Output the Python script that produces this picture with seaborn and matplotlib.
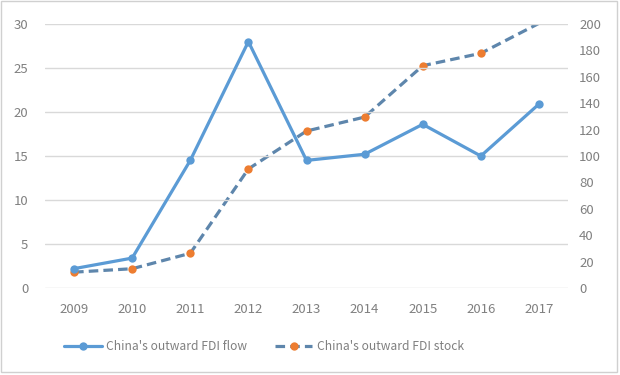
import matplotlib
matplotlib.use("Agg")
import matplotlib.pyplot as plt
import seaborn as sns
import pandas as pd
from matplotlib.lines import Line2D

years = ["2009", "2010", "2011", "2012", "2013", "2014", "2015", "2016", "2017"]
fdi_flow = [2.2, 3.4, 14.5, 28.0, 14.5, 15.2, 18.6, 15.0, 20.9]
fdi_stock = [12.0, 14.6, 26.3, 90.2, 118.9, 129.5, 168.4, 177.8, 200.5]
left_ticks = [0, 5, 10, 15, 20, 25, 30]
right_ticks = [0, 20, 40, 60, 80, 100, 120, 140, 160, 180, 200]
flow_label = "China's outward FDI flow"
stock_label = "China's outward FDI stock"

sns.set_theme(style="white")
plt.rcParams['font.family'] = ['Noto Sans CJK SC', 'DejaVu Sans']

df = pd.DataFrame({"year": years, "flow": fdi_flow, "stock": fdi_stock})
df["x"] = range(len(years))

fig = plt.figure(figsize=(6.2, 3.75), dpi=100)
ax = fig.add_axes([45/620, 1-288/375, 523/620, 264/375])
ax2 = ax.twinx()

flow_c = "#5B9BD5"
stock_c = "#5E86AC"
mark_c = "#ED7D31"
text_c = "#808080"
grid_c = "#D9D9D9"

sns.lineplot(data=df, x="x", y="flow", ax=ax, color=flow_c, linewidth=2.3,
             marker="o", markersize=6, markeredgewidth=0, markerfacecolor=flow_c,
             legend=False)
sns.lineplot(data=df, x="x", y="stock", ax=ax2, color=stock_c, linewidth=2.3,
             linestyle=(0, (3, 1.6)), marker="o", markersize=6, markeredgewidth=0,
             markerfacecolor=mark_c, markevery=list(range(len(years) - 1)),
             legend=False)

ax.set_xlim(-0.5, len(years) - 0.5)
ax.set_ylim(0, 30)
ax2.set_ylim(0, 200)
ax.set_yticks(left_ticks)
ax2.set_yticks(right_ticks)
ax.set_xticks(range(len(years)))
ax.set_xticklabels(years)
for g in left_ticks:
    ax.axhline(g, color=grid_c, linewidth=1.0, zorder=0)
ax.set_xlabel("")
ax.set_ylabel("")
ax2.set_ylabel("")
for a in (ax, ax2):
    for s in a.spines.values():
        s.set_visible(False)
    a.tick_params(length=0, labelsize=9.5, labelcolor=text_c)
ax.tick_params(axis="y", pad=12)
ax.tick_params(axis="x", pad=11)
ax2.tick_params(axis="y", pad=8)
ax.set_zorder(ax2.get_zorder() + 1)
ax.patch.set_visible(False)

handles = [
    Line2D([], [], color=flow_c, linewidth=2.3, marker="o", markersize=6,
           markeredgewidth=0),
    Line2D([], [], color=stock_c, linewidth=2.3, linestyle=(0, (3, 1.6)),
           marker="o", markersize=6, markeredgewidth=0, markerfacecolor=mark_c),
]
fig.legend(handles, [flow_label, stock_label], loc="center",
           bbox_to_anchor=(264/620, 1-347/375), ncol=2, frameon=False,
           fontsize=8.7, labelcolor=text_c, handlelength=3.1, columnspacing=2.3,
           handletextpad=0.35)

fig.patches.append(plt.Rectangle((0.002, 0.008), 0.993, 0.99, transform=fig.transFigure,
                                 fill=False, edgecolor="#D0D0D0", linewidth=1.0))
fig.savefig("out.png", dpi=100)
